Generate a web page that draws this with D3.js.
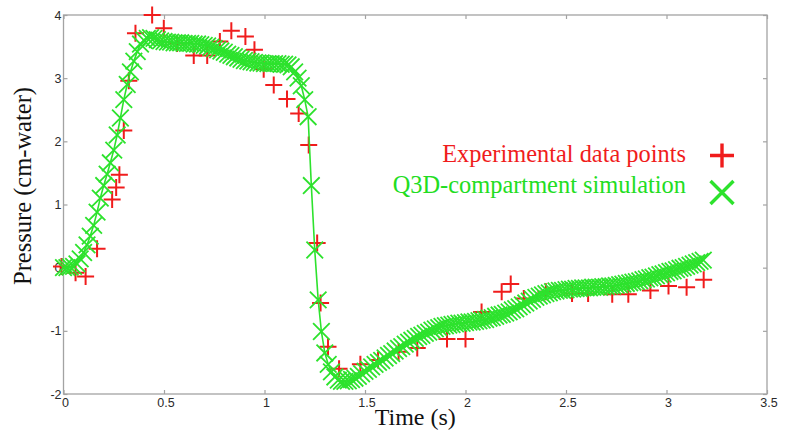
<!DOCTYPE html>
<html>
<head>
<meta charset="utf-8">
<script src="https://cdn.jsdelivr.net/npm/d3@7"></script>
<style>
  html, body { margin: 0; padding: 0; background: #fff; }
  svg { display: block; }
</style>
</head>
<body>
<svg id="chart" width="785" height="439"></svg>
<script>
// ---------------- data ----------------
const timeTicks = [0, 0.5, 1, 1.5, 2, 2.5, 3, 3.5];
const timeTickLabels = ["0", "0.5", "1", "1.5", "2", "2.5", "3", "3.5"];
const pressureTicks = [-2, -1, 0, 1, 2, 3, 4];
const pressureTickLabels = ["-2", "-1", "0", "1", "2", "3", "4"];

const seriesNames = ["Experimental data points", "Q3D-compartment simulation"];

// Experimental data (red +)
const expTime = [-0.01, 0.06, 0.11, 0.167, 0.242, 0.262, 0.278, 0.30, 0.325, 0.358,
  0.441, 0.499, 0.565, 0.648, 0.715, 0.778, 0.835, 0.905, 0.95, 0.996,
  1.046, 1.112, 1.17, 1.22, 1.262, 1.279, 1.316, 1.371, 1.477, 1.565,
  1.667, 1.76, 1.908, 2.0, 2.08, 2.18, 2.225, 2.29, 2.40, 2.53,
  2.61, 2.73, 2.81, 2.92, 3.01, 3.10, 3.185];
const expPressure = [0.02, -0.08, -0.14, 0.30, 1.08, 1.27, 1.47, 2.17, 2.96, 3.71,
  4.00, 3.79, 3.55, 3.36, 3.36, 3.58, 3.75, 3.66, 3.45, 3.14,
  2.89, 2.67, 2.44, 1.94, 0.39, -0.56, -1.25, -1.60, -1.53, -1.46,
  -1.33, -1.27, -1.13, -1.13, -0.70, -0.38, -0.26, -0.49, -0.38, -0.41,
  -0.41, -0.42, -0.42, -0.36, -0.29, -0.31, -0.19];

// Simulation (green x), sampled every 1/60 s
const simTime = [
  0.000, 0.017, 0.033, 0.050, 0.067, 0.083,
  0.100, 0.117, 0.133, 0.150, 0.167, 0.183,
  0.200, 0.217, 0.233, 0.250, 0.267, 0.283,
  0.300, 0.317, 0.333, 0.350, 0.367, 0.383,
  0.400, 0.417, 0.433, 0.450, 0.467, 0.483,
  0.500, 0.517, 0.533, 0.550, 0.567, 0.583,
  0.600, 0.617, 0.633, 0.650, 0.667, 0.683,
  0.700, 0.717, 0.733, 0.750, 0.767, 0.783,
  0.800, 0.817, 0.833, 0.850, 0.867, 0.883,
  0.900, 0.917, 0.933, 0.950, 0.967, 0.983,
  1.000, 1.017, 1.033, 1.050, 1.067, 1.083,
  1.100, 1.117, 1.133, 1.150, 1.167, 1.183,
  1.200, 1.217, 1.233, 1.250, 1.267, 1.283,
  1.300, 1.317, 1.333, 1.350, 1.367, 1.383,
  1.400, 1.417, 1.433, 1.450, 1.467, 1.483,
  1.500, 1.517, 1.533, 1.550, 1.567, 1.583,
  1.600, 1.617, 1.633, 1.650, 1.667, 1.683,
  1.700, 1.717, 1.733, 1.750, 1.767, 1.783,
  1.800, 1.817, 1.833, 1.850, 1.867, 1.883,
  1.900, 1.917, 1.933, 1.950, 1.967, 1.983,
  2.000, 2.017, 2.033, 2.050, 2.067, 2.083,
  2.100, 2.117, 2.133, 2.150, 2.167, 2.183,
  2.200, 2.217, 2.233, 2.250, 2.267, 2.283,
  2.300, 2.317, 2.333, 2.350, 2.367, 2.383,
  2.400, 2.417, 2.433, 2.450, 2.467, 2.483,
  2.500, 2.517, 2.533, 2.550, 2.567, 2.583,
  2.600, 2.617, 2.633, 2.650, 2.667, 2.683,
  2.700, 2.717, 2.733, 2.750, 2.767, 2.783,
  2.800, 2.817, 2.833, 2.850, 2.867, 2.883,
  2.900, 2.917, 2.933, 2.950, 2.967, 2.983,
  3.000, 3.017, 3.033, 3.050, 3.067, 3.083,
  3.100, 3.117, 3.133, 3.150, 3.167, 3.183
];
const simPressure = [
  0.00, 0.00, 0.01, 0.02, 0.06, 0.14,
  0.24, 0.36, 0.50, 0.67, 0.88, 1.10,
  1.30, 1.48, 1.66, 1.86, 2.10, 2.37,
  2.66, 2.90, 3.10, 3.27, 3.42, 3.54,
  3.60, 3.63, 3.64, 3.63, 3.61, 3.59,
  3.58, 3.57, 3.57, 3.56, 3.56, 3.56,
  3.55, 3.55, 3.55, 3.54, 3.54, 3.53,
  3.52, 3.51, 3.49, 3.47, 3.45, 3.43,
  3.41, 3.38, 3.36, 3.34, 3.32, 3.30,
  3.28, 3.27, 3.26, 3.25, 3.24, 3.24,
  3.23, 3.23, 3.23, 3.23, 3.23, 3.22,
  3.22, 3.21, 3.18, 3.10, 3.00, 2.88,
  2.66, 2.39, 1.30, 0.28, -0.51, -1.01,
  -1.35, -1.53, -1.65, -1.73, -1.78, -1.80,
  -1.80, -1.79, -1.77, -1.75, -1.72, -1.68,
  -1.64, -1.61, -1.57, -1.53, -1.50, -1.47,
  -1.43, -1.39, -1.36, -1.32, -1.28, -1.25,
  -1.21, -1.18, -1.15, -1.12, -1.09, -1.07,
  -1.04, -1.02, -0.99, -0.97, -0.95, -0.93,
  -0.92, -0.91, -0.90, -0.89, -0.88, -0.88,
  -0.87, -0.86, -0.86, -0.85, -0.84, -0.83,
  -0.82, -0.80, -0.79, -0.77, -0.75, -0.74,
  -0.72, -0.70, -0.67, -0.65, -0.62, -0.59,
  -0.56, -0.53, -0.50, -0.47, -0.45, -0.43,
  -0.41, -0.40, -0.38, -0.37, -0.36, -0.36,
  -0.35, -0.34, -0.34, -0.33, -0.33, -0.32,
  -0.32, -0.32, -0.31, -0.31, -0.31, -0.30,
  -0.30, -0.29, -0.29, -0.28, -0.27, -0.26,
  -0.25, -0.24, -0.23, -0.22, -0.21, -0.19,
  -0.18, -0.16, -0.15, -0.13, -0.11, -0.10,
  -0.08, -0.06, -0.05, -0.03, -0.01, 0.00,
  0.02, 0.04, 0.06, 0.08, 0.10, 0.12
];

// ---------------- drawing ----------------
const RED = "#f01c1c";
const GREEN = "#2de22d";
const GREEN_TEXT = "#22dd22";
const FRAME = "#a3a3a3";

const svg = d3.select("#chart");
const plotLeft = 63.5, plotRight = 767, plotTop = 15, plotBottom = 394;

const x = d3.scaleLinear().domain([0, 3.5]).range([plotLeft, plotRight]);
const y = d3.scaleLinear().domain([-2, 4]).range([plotBottom, plotTop]);

const tickFont = "'Liberation Sans', Arial, sans-serif";
const serif = "'Liberation Serif', 'Times New Roman', serif";

function styleAxis(g) {
  g.select(".domain").remove();
  g.selectAll(".tick line").attr("stroke", FRAME).attr("stroke-width", 1.2);
  g.selectAll(".tick text")
    .attr("fill", "#2a2a2a")
    .style("font-family", tickFont)
    .style("font-size", "12.5px");
}

// bottom axis
svg.append("g")
  .attr("transform", `translate(0,${plotBottom})`)
  .call(d3.axisBottom(x).tickValues(timeTicks)
    .tickFormat((d, i) => timeTickLabels[i])
    .tickSizeInner(-4).tickSizeOuter(0).tickPadding(4))
  .call(styleAxis)
  .call(g => g.selectAll(".tick text").attr("dx", 1.5));

// top axis (ticks only)
svg.append("g")
  .attr("transform", `translate(0,${plotTop})`)
  .call(d3.axisTop(x).tickValues(timeTicks).tickFormat("")
    .tickSizeInner(-4).tickSizeOuter(0))
  .call(styleAxis);

// left axis
svg.append("g")
  .attr("transform", `translate(${plotLeft},0)`)
  .call(d3.axisLeft(y).tickValues(pressureTicks)
    .tickFormat((d, i) => pressureTickLabels[i])
    .tickSizeInner(-4).tickSizeOuter(0).tickPadding(2))
  .call(styleAxis);

// right axis (ticks only)
svg.append("g")
  .attr("transform", `translate(${plotRight},0)`)
  .call(d3.axisRight(y).tickValues(pressureTicks).tickFormat("")
    .tickSizeInner(-4).tickSizeOuter(0))
  .call(styleAxis);

// frame
svg.append("rect")
  .attr("x", plotLeft).attr("y", plotTop)
  .attr("width", plotRight - plotLeft).attr("height", plotBottom - plotTop)
  .attr("fill", "none").attr("stroke", FRAME).attr("stroke-width", 1.3);

// marker path generators
const plusPath = s => `M${-s},0H${s}M0,${-s}V${s}`;
const xPath = s => `M${-s},${-s}L${s},${s}M${-s},${s}L${s},${-s}`;

// experimental points
const expData = expTime.map((t, i) => ({ t, p: expPressure[i] }));
svg.append("g")
  .selectAll("path")
  .data(expData)
  .join("path")
  .attr("transform", d => `translate(${x(d.t)},${y(d.p)})`)
  .attr("d", plusPath(8.5))
  .attr("stroke", RED)
  .attr("stroke-width", 2)
  .attr("fill", "none");

// simulation line + markers
const simData = simTime.map((t, i) => ({ t, p: simPressure[i] }));
svg.append("path")
  .datum(simData)
  .attr("d", d3.line().x(d => x(d.t)).y(d => y(d.p)))
  .attr("fill", "none")
  .attr("stroke", GREEN)
  .attr("stroke-width", 1.6);

svg.append("g")
  .selectAll("path")
  .data(simData)
  .join("path")
  .attr("transform", d => `translate(${x(d.t)},${y(d.p)})`)
  .attr("d", xPath(8.3))
  .attr("stroke", GREEN)
  .attr("stroke-width", 1.8)
  .attr("fill", "none");

// axis titles
svg.append("text")
  .attr("x", (plotLeft + plotRight) / 2)
  .attr("y", 425)
  .attr("text-anchor", "middle")
  .style("font-family", serif)
  .style("font-size", "24px")
  .attr("fill", "#111")
  .text("Time (s)");

svg.append("text")
  .attr("transform", "translate(31,186) rotate(-90)")
  .attr("text-anchor", "middle")
  .style("font-family", serif)
  .style("font-size", "24.5px")
  .attr("fill", "#111")
  .text("Pressure (cm-water)");

// legend
const legend = svg.append("g");
legend.append("text")
  .attr("x", 686).attr("y", 162)
  .attr("text-anchor", "end")
  .style("font-family", serif)
  .style("font-size", "24.4px")
  .attr("fill", RED)
  .text(seriesNames[0]);
legend.append("path")
  .attr("transform", "translate(722,155.5)")
  .attr("d", plusPath(12))
  .attr("stroke", RED).attr("stroke-width", 3.4).attr("fill", "none");

legend.append("text")
  .attr("x", 686).attr("y", 193)
  .attr("text-anchor", "end")
  .style("font-family", serif)
  .style("font-size", "24.4px")
  .attr("fill", GREEN_TEXT)
  .text(seriesNames[1]);
legend.append("path")
  .attr("transform", "translate(722,192.5)")
  .attr("d", xPath(11.5))
  .attr("stroke", GREEN).attr("stroke-width", 3.4).attr("fill", "none");
</script>
</body>
</html>
